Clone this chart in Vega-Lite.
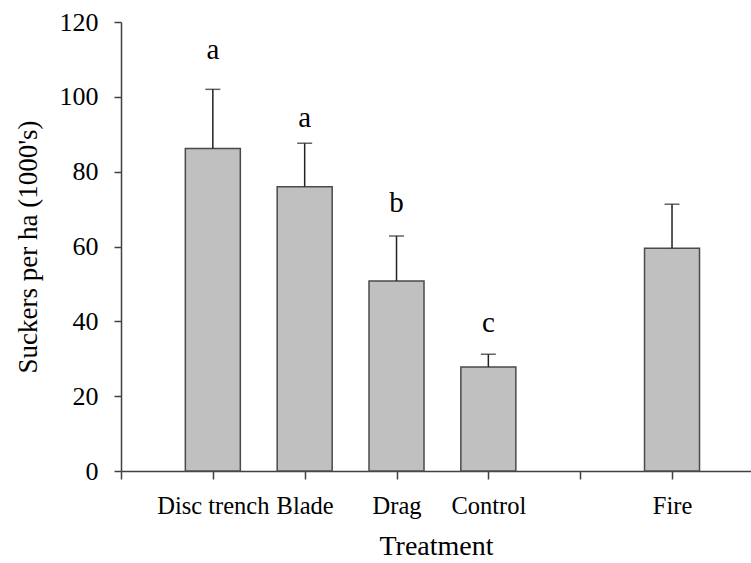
{
  "$schema": "https://vega.github.io/schema/vega-lite/v6.json",
  "width": 630,
  "height": 449,
  "autosize": {"type": "none"},
  "padding": {"left": 121, "top": 22, "right": 0, "bottom": 92},
  "background": "white",
  "config": {
    "view": {"stroke": null},
    "font": "Liberation Serif",
    "axis": {"grid": false, "domainColor": "#404040", "tickColor": "#404040", "domainWidth": 1.5, "tickWidth": 1.5, "labelColor": "black", "titleColor": "black", "labelFont": "Liberation Serif", "titleFont": "Liberation Serif", "titleFontWeight": "normal"}
  },
  "data": {
    "values": [
      {"treatment": "Disc trench", "pos": 1, "mean": 86.2, "upper": 102.0, "letter": "a", "letter_y": 110.0},
      {"treatment": "Blade", "pos": 2, "mean": 76.0, "upper": 87.6, "letter": "a", "letter_y": 92.0},
      {"treatment": "Drag", "pos": 3, "mean": 50.8, "upper": 62.8, "letter": "b", "letter_y": 69.2},
      {"treatment": "Control", "pos": 4, "mean": 27.8, "upper": 31.2, "letter": "c", "letter_y": 37.2},
      {"treatment": "Fire", "pos": 6, "mean": 59.5, "upper": 71.3, "letter": "", "letter_y": 75}
    ]
  },
  "encoding": {
    "x": {
      "field": "pos", "type": "quantitative",
      "scale": {"domain": [0, 6.86], "nice": false, "zero": false, "padding": 0},
      "axis": {"title": "Treatment", "values": [0, 1, 2, 3, 4, 5, 6], "labelExpr": "['','Disc trench','Blade','Drag','Control','','Fire'][datum.value]", "labelFontSize": 24.5, "titleFontSize": 28, "tickSize": 8, "labelPadding": 15, "titlePadding": 15, "labelFlush": false, "labelOverlap": false}
    }
  },
  "layer": [
    {
      "mark": {"type": "bar", "size": 55, "fill": "#c0c0c0", "stroke": "#4a4a4a", "strokeWidth": 1.5},
      "encoding": {
        "y": {"field": "mean", "type": "quantitative", "scale": {"domain": [0, 120], "nice": false, "padding": 0},
          "axis": {"title": "Suckers per ha (1000's)", "values": [0, 20, 40, 60, 80, 100, 120], "labelFontSize": 26, "titleFontSize": 27, "tickSize": 7, "labelPadding": 16, "titlePadding": 17}}
      }
    },
    {
      "mark": {"type": "rule", "color": "#222222", "strokeWidth": 1.5},
      "encoding": {"y": {"field": "mean", "type": "quantitative"}, "y2": {"field": "upper"}}
    },
    {
      "mark": {"type": "tick", "orient": "horizontal", "size": 15, "thickness": 1.5, "color": "#222222"},
      "encoding": {"y": {"field": "upper", "type": "quantitative"}}
    },
    {
      "mark": {"type": "text", "fontSize": 29, "baseline": "alphabetic", "align": "center", "color": "black"},
      "encoding": {"y": {"field": "letter_y", "type": "quantitative"}, "text": {"field": "letter"}}
    },
    {
      "data": {"values": [{"v": 120}]},
      "mark": {"type": "rule", "color": "#404040", "strokeWidth": 1.5},
      "encoding": {"y": {"field": "v", "type": "quantitative"}}
    }
  ]
}
